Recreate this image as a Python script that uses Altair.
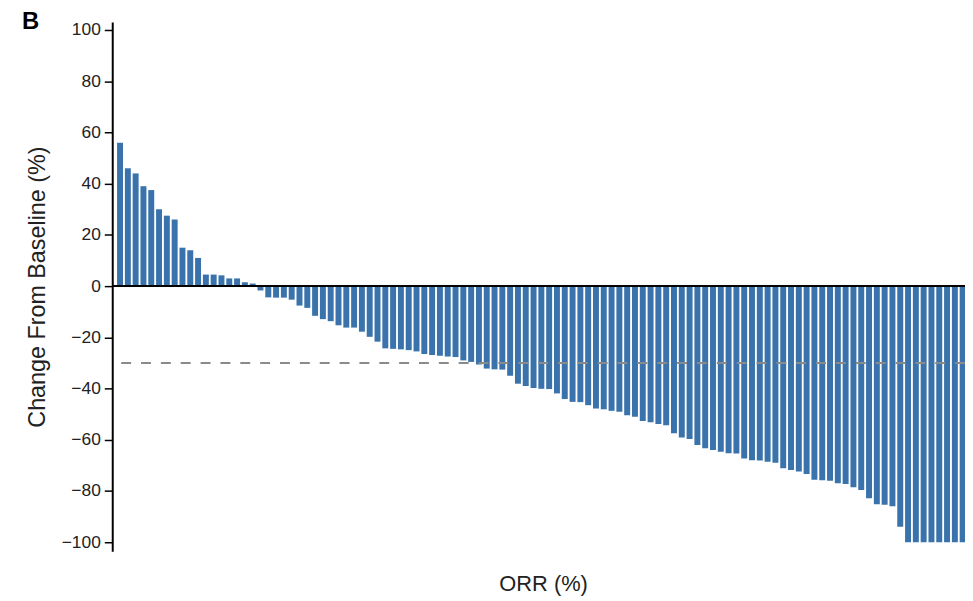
import altair as alt
import pandas as pd

# Best-overall-response waterfall: % change from baseline, one bar per patient (sorted)
change_pos = [56, 46, 44, 39, 37.5, 30, 27.5, 26, 15, 14, 11, 4.5, 4.5, 4.2, 3, 3, 1.5, 1]
change_a = [-1.7, -4.4, -4.5, -4.5, -5.3, -7.6, -8.5, -11.6, -12.9, -13.7, -15.3, -16.2,
            -16.2, -17.8, -19.8, -21.7, -24.3, -24.5]
change_b = [-24.7, -25, -25.5, -26.5, -26.9, -27.2, -27.5, -27.7, -29, -29.6, -30.6, -32.2,
            -32.5, -32.6, -35, -38.1, -39, -39.8, -40.1, -40.2]
change_c = [-41.9, -44.1, -45.2, -45.3, -46.5, -47.8, -48.1, -48.7, -49.1, -50.4, -51,
            -52.7, -53.2, -53.8, -54.3, -57.5, -59.1, -59.7, -62, -63.3, -64]
change_d = [-64.7, -65.3, -65.4, -67.3, -68, -68.1, -68.6, -69, -71.1, -71.8, -72.4, -73.4,
            -75.6, -75.8, -76]
change_e = [-77, -77.3, -78.5, -79.6, -82.8, -85.2, -85.4, -86, -94,
            -100, -100, -100, -100, -100, -100, -100, -100]

y_ticks = [-100, -80, -60, -40, -20, 0, 20, 40, 60, 80, 100]
threshold = [-30]
baseline = [0]
panel_label = ["B"]

values = change_pos + change_a + change_b + change_c + change_d + change_e
df = pd.DataFrame({"patient": list(range(1, len(values) + 1)), "change": values})

FONT = "Liberation Sans"
BAR = "#3A73AB"
TXT = "#222222"

x_scale = alt.Scale(domain=[0, 109.3], nice=False, zero=False, padding=0)
y_scale = alt.Scale(domain=[-103.5, 103.1], nice=False, padding=0)

bars = alt.Chart(df).mark_bar(orient="vertical", size=6, color=BAR).encode(
    x=alt.X("patient:Q", scale=x_scale,
            axis=alt.Axis(title="ORR (%)", labels=False, ticks=False, domain=False, grid=False,
                          titleFont=FONT, titleFontSize=22, titleFontWeight="normal",
                          titleColor=TXT, titleY=33, titleX=434, titleAlign="center",
                          titleBaseline="middle")),
    y=alt.Y("change:Q", scale=y_scale,
            axis=alt.Axis(title="Change From Baseline (%)", values=y_ticks, grid=False,
                          domainColor="#000000", domainWidth=2, tickColor="#000000",
                          tickWidth=1.5, tickSize=8, labelFont=FONT, labelFontSize=17.5,
                          labelColor=TXT, labelPadding=4,
                          titleFont=FONT, titleFontSize=23.5, titleFontWeight="normal",
                          titleColor=TXT, titleX=-75, titleBaseline="middle")),
    y2=alt.datum(0),
)

zero_line = alt.Chart(pd.DataFrame({"y": baseline})).mark_rule(
    color="#000000", strokeWidth=2).encode(y=alt.Y("y:Q", scale=y_scale))

dash_line = alt.Chart(pd.DataFrame({"y": threshold})).mark_rule(
    color="#8a8a8a", strokeWidth=2, strokeDash=[10, 10]).encode(y=alt.Y("y:Q", scale=y_scale))

label = alt.Chart(pd.DataFrame({"t": panel_label})).mark_text(
    font=FONT, fontSize=24, fontWeight="bold", color="#000000",
    align="left", baseline="alphabetic").encode(
    text="t:N", x=alt.value(-91), y=alt.value(7))

chart = alt.layer(bars, zero_line, dash_line, label).properties(
    width=859,
    height=533,
    autosize=alt.AutoSizeParams(type="none"),
    padding={"left": 105, "top": 12, "right": 0, "bottom": 44},
).configure_view(stroke=None)

chart.save("out.html", embed_options={"renderer": "svg", "actions": False})
